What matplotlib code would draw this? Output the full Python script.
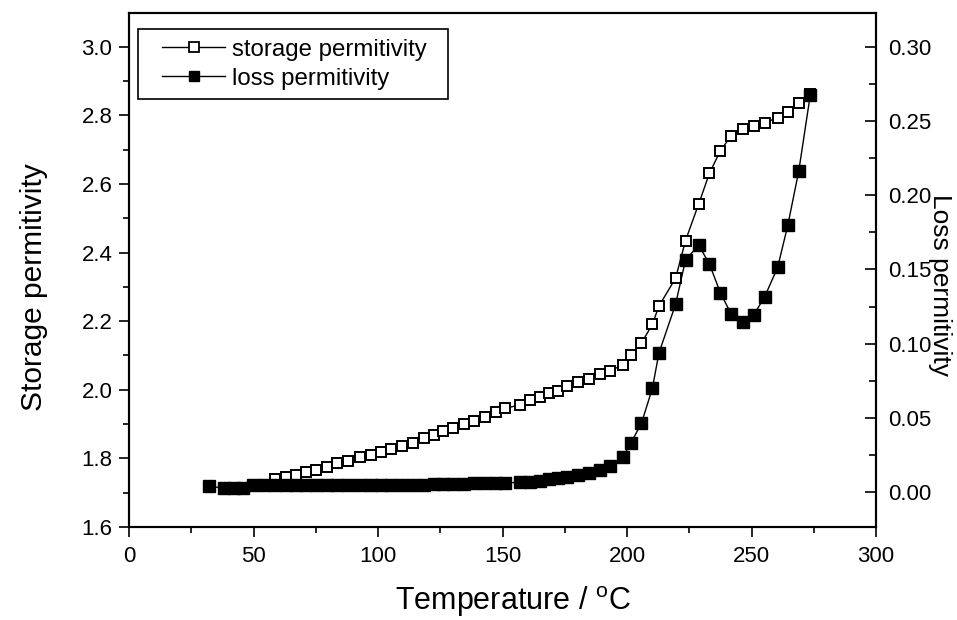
import matplotlib
matplotlib.use("Agg")
import matplotlib.pyplot as plt
from matplotlib.ticker import MultipleLocator
from matplotlib.lines import Line2D
from matplotlib.legend_handler import HandlerLine2D

plt.rcParams['font.family'] = ['Liberation Sans', 'DejaVu Sans']
plt.rcParams['mathtext.fontset'] = 'custom'
plt.rcParams['mathtext.rm'] = 'Liberation Sans'

# ---- data ----
temp_storage = [58.6, 62.9, 66.9, 70.9, 75.3, 79.6, 83.7, 88.0,
                92.9, 97.3, 101.3, 105.3, 109.6, 114.0, 118.3, 122.3, 126.3, 130.3,
                134.5, 138.7, 143.1, 147.4, 151.1,
                157.0, 161.0, 165.0, 168.7, 172.1, 176.1, 180.5, 184.8, 189.0, 193.2,
                198.4, 201.5, 205.8, 210.2, 212.8,
                219.5, 223.5, 228.8, 233.1, 237.5, 241.9, 246.6, 250.9, 255.3, 260.5,
                264.6, 269.0, 273.6]
storage = [1.739, 1.745, 1.751, 1.759, 1.767, 1.776, 1.786, 1.793,
           1.803, 1.811, 1.819, 1.827, 1.836, 1.846, 1.860, 1.868, 1.879, 1.888,
           1.899, 1.910, 1.920, 1.934, 1.946,
           1.956, 1.970, 1.980, 1.990, 1.997, 2.012, 2.024, 2.031, 2.045, 2.056,
           2.072, 2.101, 2.136, 2.191, 2.244,
           2.325, 2.435, 2.542, 2.631, 2.697, 2.741, 2.760, 2.770, 2.779, 2.793,
           2.810, 2.835, 2.862]

temp_loss = [32.0, 38.2, 42.0, 45.8, 49.9, 54.2,
             58.6, 62.9, 66.9, 70.9, 75.3, 79.6, 83.7, 88.0,
             92.9, 97.3, 101.3, 105.3, 109.6, 114.0, 118.3, 122.3, 126.3, 130.3,
             134.5, 138.7, 143.1, 147.4, 151.1,
             157.0, 161.0, 165.0, 168.7, 172.1, 176.1, 180.5, 184.8, 189.0, 193.2,
             198.4, 201.5, 205.8, 210.2, 212.8,
             219.5, 223.5, 228.8, 233.1, 237.5, 241.9, 246.6, 250.9, 255.3, 260.5,
             264.6, 269.0, 273.6]
loss = [0.0038, 0.0027, 0.0026, 0.0027, 0.0044, 0.0044,
        0.0044, 0.0045, 0.0044, 0.0045, 0.0046, 0.0045, 0.0046, 0.0046,
        0.0047, 0.0047, 0.0048, 0.0048, 0.0049, 0.0049, 0.0050, 0.0051, 0.0052, 0.0054,
        0.0056, 0.0058, 0.0059, 0.0060, 0.0060,
        0.0066, 0.0069, 0.0072, 0.0090, 0.0096, 0.0100, 0.0115, 0.0128, 0.0148, 0.0175,
        0.0238, 0.0328, 0.0463, 0.0699, 0.0935,
        0.1265, 0.1563, 0.1664, 0.1536, 0.1343, 0.1197, 0.1148, 0.1193, 0.1316, 0.1514,
        0.1799, 0.2165, 0.2675]

x_ticks = [0, 50, 100, 150, 200, 250, 300]
left_ticks = [1.6, 1.8, 2.0, 2.2, 2.4, 2.6, 2.8, 3.0]
right_ticks = [0.00, 0.05, 0.10, 0.15, 0.20, 0.25, 0.30]
legend_labels = ['storage permitivity', 'loss permitivity']

# ---- figure ----
fig = plt.figure(figsize=(9.57, 6.20), dpi=100)
ax = fig.add_axes([129/957, 93/620, 747/957, 514/620])
ax2 = ax.twinx()

ax.plot(temp_storage, storage, color='black', lw=1.0, marker='s', ms=7.8,
        mfc='white', mec='black', mew=1.4)
ax2.plot(temp_loss, loss, color='black', lw=1.0, marker='s', ms=8.2,
         mfc='black', mec='black', mew=1.0)

ax.set_xlim(0, 300)
ax.set_ylim(1.6, 3.0985)
ax2.set_ylim(-0.0236, 0.3228)

ax.set_xticks(x_ticks)
ax.xaxis.set_minor_locator(MultipleLocator(25))
ax.set_yticks(left_ticks)
ax.set_yticklabels([f"{v:.1f}" for v in left_ticks])
ax.yaxis.set_minor_locator(MultipleLocator(0.1))
ax2.set_yticks(right_ticks)
ax2.set_yticklabels([f"{v:.2f}" for v in right_ticks])
ax2.yaxis.set_minor_locator(MultipleLocator(0.025))

tfs = 16
ax.tick_params(axis='x', which='major', direction='out', length=7, width=1.2,
               labelsize=tfs, pad=7, top=False)
ax.tick_params(axis='x', which='minor', direction='out', length=4, width=1.2, top=False)
ax.tick_params(axis='y', which='major', direction='out', length=7, width=1.2,
               labelsize=tfs, pad=5)
ax.tick_params(axis='y', which='minor', direction='out', length=4, width=1.2)
ax2.tick_params(axis='y', which='major', direction='in', length=8, width=1.2,
                labelsize=tfs, pad=9)
ax2.tick_params(axis='y', which='minor', direction='in', length=5, width=1.2)

for a in (ax, ax2):
    for s in a.spines.values():
        s.set_linewidth(1.5)

ax.set_xlabel(r'Temperature / $^\mathregular{o}$C', fontsize=22)
ax.xaxis.set_label_coords((513-129)/747, (527-584)/514)
ax.set_ylabel('Storage permitivity', fontsize=21.5)
ax.yaxis.set_label_coords((48-129)/747, (527-287)/514)
ax2.set_ylabel('Loss permitivity', fontsize=19, rotation=270, va='bottom')
ax2.yaxis.set_label_coords((928-129)/747, (527-285)/514)

h1 = Line2D([], [], color='black', lw=1.0, marker='s', ms=7, mfc='white',
            mec='black', mew=1.3)
h2 = Line2D([], [], color='black', lw=1.0, marker='s', ms=7, mfc='black',
            mec='black', mew=1.0)
x0 = (138-129)/747
w = (448-138)/747
ytop = (527-29)/514
hgt = 70/514
hmap = {h1: HandlerLine2D(xpad=0.6), h2: HandlerLine2D(xpad=0.6)}
leg = ax2.legend([h1, h2], legend_labels, handler_map=hmap,
                 loc='upper left', bbox_to_anchor=(x0, ytop - hgt, w, hgt),
                 mode='expand', borderaxespad=0, fontsize=17.3, frameon=True,
                 fancybox=False, edgecolor='black', handlelength=3.225,
                 handletextpad=0.3, labelspacing=0.3, borderpad=0.4, framealpha=1)
leg.get_frame().set_linewidth(1.2)

fig.savefig('out.png', dpi=100, facecolor='white')
